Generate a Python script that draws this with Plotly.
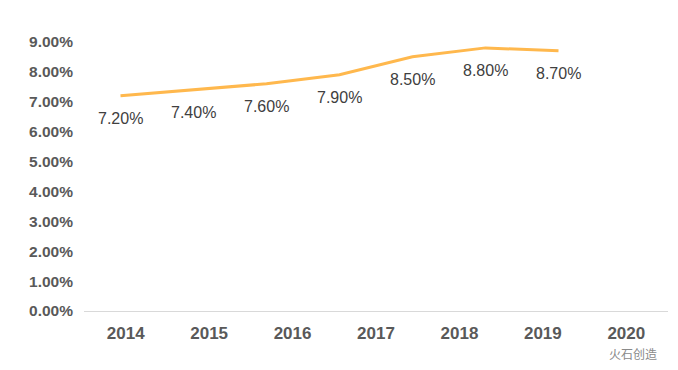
import plotly.graph_objects as go

years = ["2014", "2015", "2016", "2017", "2018", "2019", "2020"]
values = [7.20, 7.40, 7.60, 7.90, 8.50, 8.80, 8.70]
labels = ["7.20%", "7.40%", "7.60%", "7.90%", "8.50%", "8.80%", "8.70%"]
y_ticks = [0, 1, 2, 3, 4, 5, 6, 7, 8, 9]
y_tick_text = ["%.2f%%" % v for v in y_ticks]

FONT = "Liberation Sans, Arial"

fig = go.Figure()

# invisible trace to establish the category axis with 7 labels
fig.add_trace(go.Scatter(x=years, y=[None] * len(years), mode="lines",
                         showlegend=False, hoverinfo="skip", xaxis="x", yaxis="y"))

# the line sits on an 8-slot category axis
line_x = list(range(len(values)))
fig.add_trace(go.Scatter(x=line_x, y=values, mode="lines",
                         line=dict(color="#FFB84D", width=3),
                         showlegend=False, xaxis="x2", yaxis="y"))

for xi, v, t in zip(line_x, values, labels):
    fig.add_annotation(x=xi, y=v, xref="x2", yref="y", text=t, showarrow=False,
                       yshift=-23, font=dict(family=FONT, size=16, color="#404040"))

fig.add_annotation(x=1, y=0, xref="paper", yref="paper", xanchor="right", yanchor="top",
                   yshift=-33, xshift=-10, text="火石创造", showarrow=False, borderpad=0,
                   font=dict(family="Noto Sans CJK SC", size=12, color="#8a8a8a"))

fig.update_layout(
    width=662, height=354,
    margin=dict(l=76, r=2, t=4, b=51),
    paper_bgcolor="white", plot_bgcolor="white",
    xaxis=dict(type="category", categoryorder="array", categoryarray=years,
               range=[-0.5, 6.5], showgrid=False, showline=True, linecolor="#D9D9D9",
               linewidth=1, ticks="", zeroline=False, automargin=False,
               tickfont=dict(family=FONT, size=17, color="#595959", weight="bold"),
               ticklabelstandoff=7),
    xaxis2=dict(overlaying="x", range=[-0.5, 7.5], visible=False),
    yaxis=dict(range=[0, 10], tickvals=y_ticks, ticktext=y_tick_text,
               showgrid=False, zeroline=False, showline=False, ticks="", automargin=False,
               tickfont=dict(family=FONT, size=15.5, color="#595959", weight="bold"),
               ticklabelstandoff=10),
)

fig.write_html("out.html")
